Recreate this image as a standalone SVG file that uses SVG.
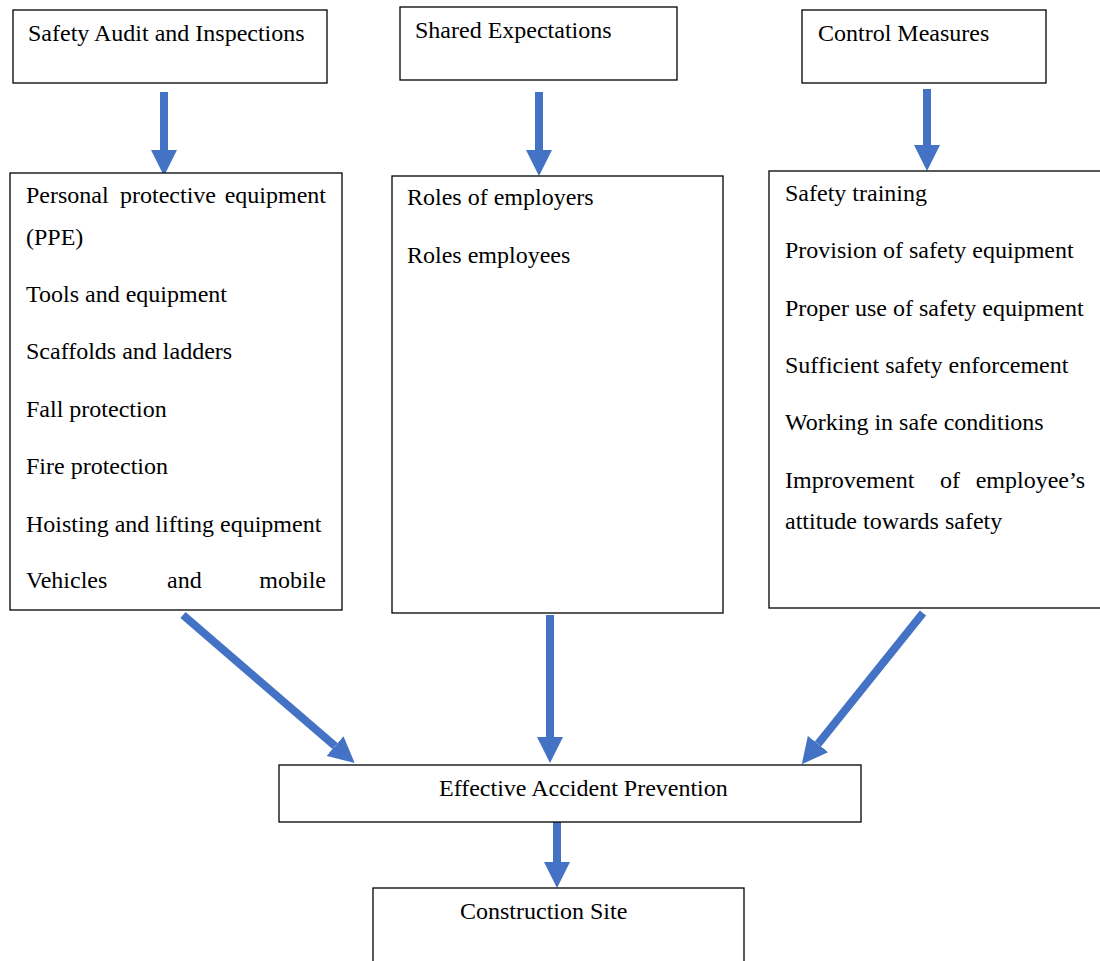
<svg xmlns="http://www.w3.org/2000/svg" width="1100" height="961" viewBox="0 0 1100 961">
<style>
.box{fill:#fff;stroke:#000;stroke-width:1.3}
.t{font-family:"Liberation Serif","Times New Roman",serif;font-size:24px;fill:#000}
.e{text-anchor:end}
.c{stroke:#4472C4;stroke-width:8;fill:none}
</style>
<defs>
<marker id="ah" markerUnits="userSpaceOnUse" markerWidth="26" markerHeight="26" viewBox="0 0 26 26" refX="0" refY="13" orient="auto">
<path d="M0,0 L26,13 L0,26 z" fill="#4472C4"/>
</marker>
</defs>
<rect width="1100" height="961" fill="#fff"/>
<g id="connectors">
<line class="c" x1="164" y1="92" x2="164" y2="150" marker-end="url(#ah)"/>
<line class="c" x1="539" y1="92" x2="539" y2="150" marker-end="url(#ah)"/>
<line class="c" x1="927" y1="89" x2="927" y2="145" marker-end="url(#ah)"/>
<line class="c" x1="183" y1="615" x2="335" y2="746" marker-end="url(#ah)"/>
<line class="c" x1="550" y1="615" x2="550" y2="737" marker-end="url(#ah)"/>
<line class="c" x1="923" y1="613" x2="818" y2="744" marker-end="url(#ah)"/>
<line class="c" x1="557" y1="822" x2="557" y2="862" marker-end="url(#ah)"/>
</g>
<g id="n1">
<rect class="box" x="13" y="10" width="314" height="73"/>
<text class="t" x="28" y="41">Safety Audit and Inspections</text>
</g>
<g id="n2">
<rect class="box" x="400" y="7" width="277" height="73"/>
<text class="t" x="415" y="38">Shared Expectations</text>
</g>
<g id="n3">
<rect class="box" x="802" y="10" width="244" height="73"/>
<text class="t" x="818" y="41">Control Measures</text>
</g>
<g id="n4">
<rect class="box" x="10" y="173" width="332" height="437"/>
<text class="t" x="26" y="203">Personal</text>
<text class="t" x="120" y="203">protective</text>
<text class="t e" x="326" y="203">equipment</text>
<text class="t" x="26" y="245">(PPE)</text>
<text class="t" x="26" y="302">Tools and equipment</text>
<text class="t" x="26" y="359">Scaffolds and ladders</text>
<text class="t" x="26" y="417">Fall protection</text>
<text class="t" x="26" y="474">Fire protection</text>
<text class="t" x="26" y="532">Hoisting and lifting equipment</text>
<text class="t" x="26" y="588">Vehicles</text>
<text class="t" x="167" y="588">and</text>
<text class="t e" x="326" y="588">mobile</text>
</g>
<g id="n5">
<rect class="box" x="392" y="176" width="331" height="437"/>
<text class="t" x="407" y="205">Roles of employers</text>
<text class="t" x="407" y="263">Roles employees</text>
</g>
<g id="n6">
<rect class="box" x="769" y="171" width="335" height="437"/>
<text class="t" x="785" y="201">Safety training</text>
<text class="t" x="785" y="258">Provision of safety equipment</text>
<text class="t" x="785" y="316">Proper use of safety equipment</text>
<text class="t" x="785" y="373">Sufficient safety enforcement</text>
<text class="t" x="785" y="430">Working in safe conditions</text>
<text class="t" x="785" y="488">Improvement</text>
<text class="t" x="940" y="488">of</text>
<text class="t e" x="1085" y="488">employee’s</text>
<text class="t" x="785" y="529">attitude towards safety</text>
</g>
<g id="n7">
<rect class="box" x="279" y="765" width="582" height="57"/>
<text class="t" x="439" y="796">Effective Accident Prevention</text>
</g>
<g id="n8">
<rect class="box" x="373" y="888" width="371" height="80"/>
<text class="t" x="460" y="919">Construction Site</text>
</g>
</svg>
